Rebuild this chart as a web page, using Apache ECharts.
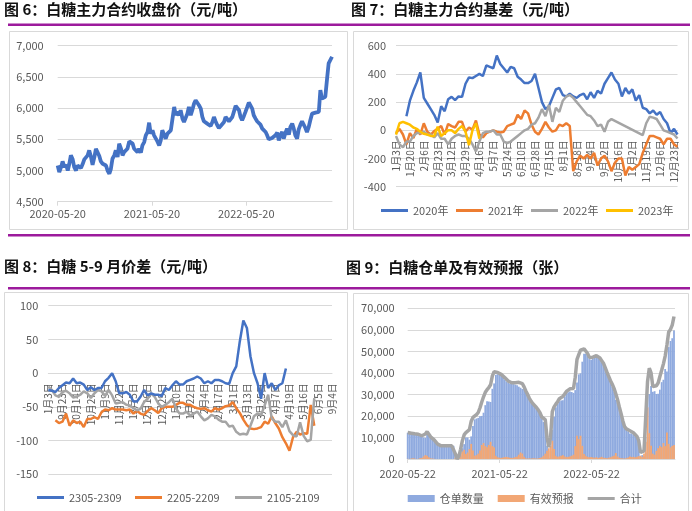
<!DOCTYPE html>
<html><head><meta charset="utf-8">
<script src="https://cdn.jsdelivr.net/npm/echarts@6/dist/echarts.min.js"></script>
<style>html,body{margin:0;padding:0;background:#fff}#c{width:692px;height:511px}</style>
</head><body><div id="c"></div>
<script>
// ---------- Chart 1: 白糖主力合约收盘价 ----------
const priceStart = '2020-05-20';
const priceSpanDays = 1062;
const priceTicks = ['2020-05-20', '2021-05-20', '2022-05-20'];
const closePrice = [5080,4974,5054,5146,5054,5092,5000,5108,5242,5178,
5054,5000,5081,5054,5038,5108,5178,5146,5242,5322,
5215,5092,5215,5349,5360,5231,5146,5108,5135,5081,
5000,4947,5027,5188,5242,5322,5215,5430,5349,5242,
5295,5268,5349,5467,5499,5430,5349,5322,5295,5349,
5285,5403,5456,5564,5617,5767,5590,5644,5564,5590,
5467,5403,5483,5644,5617,5510,5590,5574,5644,5671,
6019,5885,5939,5885,5966,5832,5778,5789,5912,6019,
5885,5966,6073,6126,6142,6046,5992,5858,5789,5767,
5751,5767,5714,5778,5858,5789,5724,5681,5714,5724,
5778,5858,5885,5789,5805,5858,5939,6035,6062,5966,
5858,5805,5875,5939,6019,6089,6073,5992,5885,5832,
5789,5821,5735,5671,5644,5617,5564,5499,5510,5521,
5499,5564,5606,5483,5564,5617,5510,5606,5671,5574,
5698,5751,5671,5564,5510,5660,5735,5789,5805,5681,
5617,5698,5805,5912,5939,5928,5928,5939,6287,6153,
6126,6180,6475,6716,6743,6823];

// ---------- Chart 2: 白糖主力合约基差 ----------
const basisLabels = ['1月3日','1月20日','2月6日','2月23日','3月12日','3月29日','4月16日','5月7日','5月24日','6月10日','6月28日','7月15日','8月1日','8月18日','9月4日','9月22日','10月16日','11月2日','11月19日','12月6日','12月23日'];
const basisNames = ['2020年','2021年','2022年','2023年'];
const basis2020 = [null,null,null,100,210,280,340,410,230,190,
150,110,55,170,135,220,237,214,240,237,
330,375,370,385,400,385,460,450,440,530,
470,440,410,450,440,380,360,335,335,350,
400,300,200,150,170,230,290,300,250,240,
260,240,230,250,260,220,270,230,280,260,
330,370,410,360,330,240,300,260,290,210,
250,160,150,120,140,110,130,80,50,-20,
10,-30];
const basis2021 = [-20,10,-30,-100,-20,-55,10,-30,50,-10,
-30,-5,10,30,-30,45,30,20,60,60,
-10,20,5,70,-30,-50,-20,-10,0,-10,
-15,-10,30,40,50,110,80,140,120,40,
-10,-30,10,60,20,-10,0,40,30,50,
30,-290,-220,-180,-200,-175,-200,-160,-250,-200,
-180,-220,-290,-230,-200,-200,-320,-260,-280,-260,
-240,-160,-100,-40,-40,-50,-60,-100,-60,-60,
-100,-117];
const basis2022 = [-40,-100,-120,-80,-80,-40,-20,-20,-10,-30,
-30,-50,-20,-60,-60,-100,-60,-40,-30,-40,
-40,-60,-100,-150,-80,-20,-10,-10,0,-30,
-30,-80,-90,-80,-60,-40,-20,0,10,40,
50,90,150,100,180,60,160,130,210,240,
250,230,200,170,140,110,100,70,30,40,
-10,60,80,null,null,null,null,null,null,null,
null,-34,50,96,90,80,40,0,-10,-20,
-30,-58];
const basis2023 = [-30,50,60,50,40,20,10,-10,-25,-30,
-40,-40,25,-40,-20,0,0,-20,10,30,
-10,-105,0,50,-60];

// ---------- Chart 3: 白糖5-9月价差 ----------
const spreadLabels = ['1月3日','9月23日','10月14日','10月27日','11月9日','11月22日','12月5日','12月16日','12月29日','1月10日','1月22日','2月4日','2月17日','3月1日','3月13日','3月25日','4月7日','4月19日','5月16日','6月5日','9月4日'];
const spreadNames = ['2305-2309','2205-2209','2105-2109'];
const spread2305 = [-25,-26,-28,-22,-18,-14,-15,-8,-15,-14,
-17,-25,-21,-25,-22,-22,-12,-7,0,-12,
-30,-30,-28,-32,-42,-42,-35,-25,-33,-30,
-32,-32,-34,-22,-25,-18,-12,-17,-17,-12,
-10,-8,-5,-8,-15,-12,-15,-10,-10,-12,
-15,-16,0,10,47,78,67,25,0,-15,
-38,0,-22,-15,-25,-18,-15,7];
const spread2205 = [null,null,-70,-74,-72,-60,-78,-70,-74,-72,
-80,-68,-68,-65,-68,-58,-54,-55,-52,-54,
-54,-54,-55,-54,-60,-56,-60,-62,-56,-52,
-55,-59,-52,-50,-50,-50,-47,-44,-44,-47,
-47,-50,-52,-53,-52,-55,-57,-52,-54,-52,
-49,-48,-43,-52,-59,-69,-77,-82,-83,-82,
-80,-72,-75,-64,-74,-82,-95,-104,-115,-95,
-87,-91,-89,-90,-47,-78];
const spread2105 = [-20,-25,-33,-35,-28,-26,-30,-36,-35,-32,
-27,-30,-37,-30,-25,-27,-34,-25,-33,-45,
-44,-43,-47,-48,-52,-55,-53,-43,-38,-30,
-35,-45,-50,-47,-43,-38,-52,-60,-60,-57,
-63,-60,-57,-64,-70,-67,-62,-64,-69,-72,
-72,-79,-78,-87,-91,-90,-91,-78,-64,-60,
-62,-48,-32,-67,-72,-72,-80,-70,-86,-92,
-94,-73,-93,-101,-99,-37];

// ---------- Chart 4: 白糖仓单及有效预报 ----------
const stockStart = '2020-05-22';
const stockSpanDays = 1061;
const stockTicks = ['2020-05-22', '2021-05-22', '2022-05-22'];
const stockNames = ['仓单数量','有效预报','合计'];
const receipts = [12200,12200,11800,11500,11500,11600,11400,10800,10300,10000,
9800,11200,11100,10000,9500,8800,8000,6900,6400,6100,
6100,6100,6100,6100,6100,6100,6100,2000,0,200,
1700,5000,6900,10000,10000,9000,10500,15300,18400,18800,
19100,19800,20000,21500,25000,26800,26700,26500,32600,35100,
39100,39400,39200,38800,38000,36900,36000,35400,35000,34900,
34800,34500,34200,33600,33100,32500,32500,31300,29700,27900,
26600,25300,24500,23700,22500,21000,18700,17200,15800,6200,
500,3900,13500,19600,24000,25600,26800,27200,27300,29000,
30500,31000,31400,31100,30700,32000,35500,39300,39800,45200,
48900,48900,48000,46400,46100,46600,47100,47200,47100,46200,
44700,43900,41900,39900,37700,35600,33500,31300,27500,26300,
23600,20700,17400,14800,13600,12800,11900,11900,11200,10800,
9400,7200,1500,1800,1300,3000,10000,30200,33900,31200,
31500,30200,30300,32200,35700,36800,41800,40700,52000,54800,
56100,59700];
const forecasts = [100,0,200,300,200,0,100,300,500,1200,
1800,1500,800,300,200,100,0,0,0,0,
0,0,0,0,0,0,0,500,0,1000,
2800,3500,4300,2300,3000,4600,7000,4000,1500,1800,
2500,4000,6500,7400,6000,5400,6500,8000,6000,5400,
1500,800,600,500,700,900,1000,800,600,500,
600,900,1200,2000,3000,2500,1000,300,200,300,
200,400,300,200,300,500,800,1500,2500,3800,
5000,6100,8500,4600,1500,1000,1200,1500,1800,1200,
900,1000,1200,1500,2000,6000,10800,9200,10800,6100,
2300,1500,1000,800,900,700,600,800,500,700,
1000,600,500,400,600,800,1200,1500,2800,1200,
600,400,300,200,400,700,1200,900,1000,800,
1100,1300,1500,1000,2500,8000,24000,12000,6100,2500,
2000,3800,5000,6100,5500,7400,6000,12300,7000,5400,
6100,6500];
const totals = [12300,12200,12000,11800,11700,11600,11500,11100,10800,11200,
11600,12700,11900,10300,9700,8900,8000,6900,6400,6100,
6100,6100,6100,6100,6100,6100,6100,2500,0,1200,
4500,8500,11200,12300,13000,13600,17500,19300,19900,20600,
21600,23800,26500,28900,31000,32200,33200,34500,38600,40500,
40600,40200,39800,39300,38700,37800,37000,36200,35600,35400,
35400,35400,35400,35600,36100,35000,33500,31600,29900,28200,
26800,25700,24800,23900,22800,21500,19500,18700,18300,10000,
5500,10000,22000,24200,25500,26600,28000,28700,29100,30200,
31400,32000,32600,32600,32700,38000,46300,48500,50600,51300,
51200,50400,49000,47200,47000,47300,47700,48000,47600,46900,
45700,44500,42400,40300,38300,36400,34700,32800,30300,27500,
24200,21100,17700,15000,14000,13500,13100,12800,12200,11600,
10500,8500,3000,2800,3800,20000,36000,42200,40000,33700,
33500,34000,35300,38300,41200,44200,47800,53000,59000,60200,
62200,66200];

// ---------- helpers ----------
const DAY = 86400000;
const FONT = '"Noto Sans CJK SC", "Noto Sans", sans-serif';
const LABEL = '#595959', GRIDC = '#d9d9d9';
const BLUE = '#4472C4', ORANGE = '#ED7D31', GRAY = '#A5A5A5', YELLOW = '#FFC000';
function ts(s) { const p = s.split('-').map(Number); return Date.UTC(p[0], p[1] - 1, p[2]); }
function fmt(v) { const d = new Date(v); return d.getUTCFullYear() + '-' + String(d.getUTCMonth() + 1).padStart(2, '0') + '-' + String(d.getUTCDate()).padStart(2, '0'); }
function expandCats(labels, per, extra) {
  const out = [];
  labels.forEach((lab, i) => {
    out.push(lab);
    const n = i < labels.length - 1 ? per - 1 : extra;
    const m = lab.match(/(\d+)月(\d+)日/);
    for (let j = 1; j <= n; j++) {
      const dt = new Date(Date.UTC(2021, +m[1] - 1, +m[2] + 3 * j));
      out.push((dt.getUTCMonth() + 1) + '月' + dt.getUTCDate() + '日');
    }
  });
  return out;
}
const basisCats = expandCats(basisLabels, 4, 1);
const spreadCats = expandCats(spreadLabels, 4, 0);
const p0 = ts(priceStart);
const priceData = closePrice.map((v, i) => [p0 + Math.round(i * priceSpanDays / (closePrice.length - 1)) * DAY, v]);
const s0 = ts(stockStart);
const weekX = i => s0 + i * 7 * DAY;

const valueY = (gi, min, max, interval, margin, commas) => ({
  gridIndex: gi, type: 'value', min, max, interval,
  axisLine: { show: false }, axisTick: { show: false },
  splitLine: { lineStyle: { color: GRIDC, width: 1 } },
  axisLabel: { color: LABEL, fontSize: 11, fontFamily: FONT, margin,
    formatter: v => commas ? Number(v).toLocaleString('en-US') : String(v) }
});
const dateX = (gi, start, span, ticks, margin) => ({
  gridIndex: gi, type: 'value', min: ts(start), max: ts(start) + span * DAY,
  axisLine: { show: true, onZero: false, lineStyle: { color: GRIDC } },
  axisTick: { show: true, length: 4, customValues: ticks.map(ts), lineStyle: { color: GRIDC } },
  axisLabel: { customValues: ticks.map(ts), formatter: v => fmt(v), color: LABEL, fontSize: 11, fontFamily: FONT, margin },
  splitLine: { show: false }
});
// category axis placed on the zero line through a negative offset
const catX = (gi, data, offset) => ({
  gridIndex: gi, type: 'category', data, boundaryGap: false, offset,
  axisLine: { show: true, onZero: false, lineStyle: { color: GRIDC } },
  axisTick: { show: false },
  axisLabel: { rotate: 90, interval: 3, color: LABEL, fontSize: 10, fontFamily: FONT, margin: 10 },
  splitLine: { show: false }
});
const lineS = (name, xi, data, color, width, extra) => Object.assign({
  name, type: 'line', xAxisIndex: xi, yAxisIndex: xi, data, symbol: 'none',
  lineStyle: { color, width }, itemStyle: { color }, connectNulls: true, animation: false
}, extra || {});
const leg = (name, left, top, icon, h) => ({
  data: [name], left, top, padding: 0, itemWidth: 27, itemHeight: h, icon,
  textStyle: { color: LABEL, fontSize: 11, fontFamily: FONT }, selectedMode: false
});

const PURPLE = '#9C1A9C';
const titleStyle = t => ({ text: t, font: 'bold 15px ' + FONT, fill: '#111' });

const option = {
  backgroundColor: '#fff',
  animation: false,
  textStyle: { fontFamily: FONT },
  graphic: [
    { type: 'text', left: 4, top: 2, style: titleStyle('图 6：白糖主力合约收盘价（元/吨）') },
    { type: 'text', left: 351, top: 2, style: titleStyle('图 7：白糖主力合约基差（元/吨）') },
    { type: 'text', left: 4, top: 259, style: titleStyle('图 8：白糖 5-9 月价差（元/吨）') },
    { type: 'text', left: 346, top: 260, style: titleStyle('图 9：白糖仓单及有效预报（张）') },
    { type: 'line', shape: { x1: 8, y1: 24.8, x2: 690, y2: 24.8 }, style: { stroke: PURPLE, lineWidth: 2.5 } },
    { type: 'line', shape: { x1: 8, y1: 235.3, x2: 690, y2: 235.3 }, style: { stroke: PURPLE, lineWidth: 2.5 } },
    { type: 'line', shape: { x1: 8, y1: 288.3, x2: 690, y2: 288.3 }, style: { stroke: PURPLE, lineWidth: 2.5 } },
    { type: 'rect', shape: { x: 9.5, y: 31.5, width: 338, height: 198 }, style: { fill: 'none', stroke: GRIDC, lineWidth: 1 } },
    { type: 'rect', shape: { x: 353.5, y: 31.5, width: 335, height: 198 }, style: { fill: 'none', stroke: GRIDC, lineWidth: 1 } },
    { type: 'rect', shape: { x: 4.5, y: 292.5, width: 343, height: 230 }, style: { fill: 'none', stroke: GRIDC, lineWidth: 1 } },
    { type: 'rect', shape: { x: 353.5, y: 293.5, width: 335, height: 230 }, style: { fill: 'none', stroke: GRIDC, lineWidth: 1 } }
  ],
  grid: [
    { left: 57.7, top: 45.7, width: 274.3, height: 156, outerBoundsMode: 'none' },
    { left: 396, top: 45.7, width: 281.5, height: 141, outerBoundsMode: 'none' },
    { left: 48.3, top: 305.7, width: 283.7, height: 168.6, outerBoundsMode: 'none' },
    { left: 407.7, top: 308.3, width: 267.3, height: 150.7, outerBoundsMode: 'none' }
  ],
  xAxis: [
    dateX(0, priceStart, priceSpanDays, priceTicks, 7),
    catX(1, basisCats, -141 * 2 / 5),
    catX(2, spreadCats, -168.6 * 3 / 5),
    dateX(3, stockStart, stockSpanDays, stockTicks, 9)
  ],
  yAxis: [
    valueY(0, 4500, 7000, 500, 14, true),
    valueY(1, -400, 600, 200, 10, false),
    valueY(2, -150, 100, 50, 10, false),
    valueY(3, 0, 70000, 10000, 13, true)
  ],
  legend: [
    leg('2020年', 381, 205, 'rect', 3), leg('2021年', 456, 205, 'rect', 3),
    leg('2022年', 531, 205, 'rect', 3), leg('2023年', 606, 205, 'rect', 3),
    leg('2305-2309', 37, 492, 'rect', 3), leg('2205-2209', 135, 492, 'rect', 3), leg('2105-2109', 235, 492, 'rect', 3),
    leg('仓单数量', 407.7, 493, 'rect', 7), leg('有效预报', 497.7, 493, 'rect', 7), leg('合计', 587.7, 493, 'rect', 3)
  ],
  series: [
    lineS('收盘价', 0, priceData, BLUE, 3.8),
    lineS(basisNames[0], 1, basis2020, BLUE, 2.5),
    lineS(basisNames[1], 1, basis2021, ORANGE, 2.5),
    lineS(basisNames[2], 1, basis2022, GRAY, 2.5),
    lineS(basisNames[3], 1, basis2023, YELLOW, 2.5),
    lineS(spreadNames[1], 2, spread2205, ORANGE, 2.5),
    lineS(spreadNames[2], 2, spread2105, GRAY, 2.5),
    lineS(spreadNames[0], 2, spread2305, BLUE, 2.5),
    { name: stockNames[0], type: 'bar', xAxisIndex: 3, yAxisIndex: 3, barWidth: 1.8, barGap: '-100%',
      data: receipts.map((v, i) => [weekX(i), v]), itemStyle: { color: '#8FAADF' }, animation: false },
    { name: stockNames[1], type: 'bar', xAxisIndex: 3, yAxisIndex: 3, barWidth: 1.8, barGap: '-100%',
      data: forecasts.map((v, i) => [weekX(i), v]), itemStyle: { color: '#F2A775' }, animation: false },
    lineS(stockNames[2], 3, totals.map((v, i) => [weekX(i), v]), GRAY, 3.5)
  ]
};
const chart = echarts.init(document.getElementById('c'), null, { renderer: 'canvas' });
chart.setOption(option);
</script></body></html>
